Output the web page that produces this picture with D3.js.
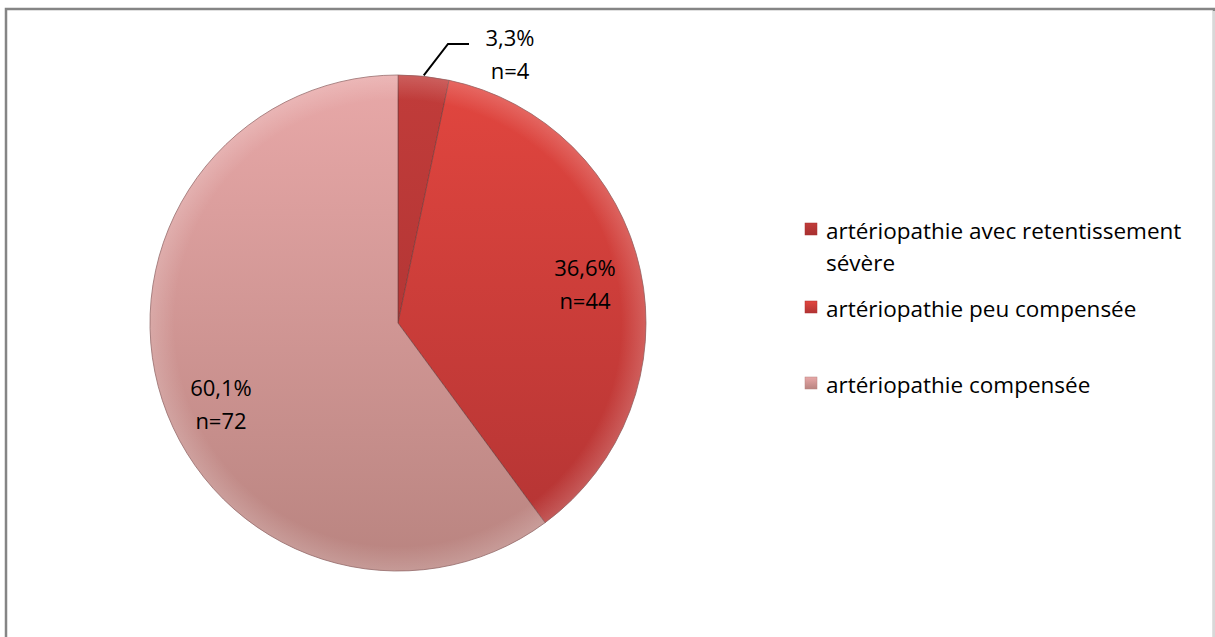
<!DOCTYPE html>
<html><head><meta charset="utf-8">
<script src="https://cdn.jsdelivr.net/npm/d3@7"></script>
<style>body{margin:0;background:#fff;}svg{display:block;}text{font-family:"Open Sans","Noto Sans",sans-serif;}</style>
</head><body>
<svg id="c" width="1215" height="637"></svg>
<script>
const categories = ["artériopathie avec retentissement sévère", "artériopathie peu compensée", "artériopathie compensée"];
const legendLines = [["artériopathie avec retentissement", "sévère"], ["artériopathie peu compensée"], ["artériopathie compensée"]];
const percents = [3.3, 36.6, 60.1];
const counts = [4, 44, 72];
const pctLabels = ["3,3%", "36,6%", "60,1%"];
const topColors = ["#c13c3a", "#e2463f", "#e8a8a8"];
const bottomColors = ["#a83030", "#b13333", "#b98480"];

const svg = d3.select("#c");
// frame
svg.append("rect").attr("x",6).attr("y",9).attr("width",1208).attr("height",640)
  .attr("fill","#fff").attr("stroke","#858585").attr("stroke-width",2.5);
svg.append("line").attr("x1",1214).attr("x2",1214).attr("y1",11).attr("y2",637).attr("stroke","#d8d8d8").attr("stroke-width",2);

const cx = 398, cy = 323, R = 248;
const defs = svg.append("defs");
categories.forEach((c,i)=>{
  const g = defs.append("linearGradient").attr("id","g"+i).attr("gradientUnits","userSpaceOnUse")
    .attr("x1",0).attr("y1",-R).attr("x2",0).attr("y2",R);
  g.append("stop").attr("offset","0%").attr("stop-color",topColors[i]);
  g.append("stop").attr("offset","100%").attr("stop-color",bottomColors[i]);
});
const lg = defs.append("radialGradient").attr("id","rim").attr("gradientUnits","userSpaceOnUse")
  .attr("cx",0).attr("cy",0).attr("r",R);
lg.append("stop").attr("offset","90%").attr("stop-color","#fff").attr("stop-opacity",0);
lg.append("stop").attr("offset","100%").attr("stop-color","#fff").attr("stop-opacity",0.18);

const pie = d3.pie().sort(null).value(d=>d)(percents);
const arc = d3.arc().innerRadius(0).outerRadius(R);
const gp = svg.append("g").attr("transform",`translate(${cx},${cy})`);
gp.selectAll("path.s").data(pie).join("path").attr("class","s")
  .attr("d",arc).attr("fill",(d,i)=>`url(#g${i})`)
  .attr("stroke","#6e3a3a").attr("stroke-width",1).attr("stroke-opacity",0.6);
gp.selectAll("path.r").data(pie).join("path").attr("class","r")
  .attr("d",arc).attr("fill","url(#rim)");

// labels
const labelPos = [[510, 46], [585, 276], [221, 396]];
pie.forEach((d,i)=>{
  const [x,y] = labelPos[i];
  svg.append("text").attr("x",x).attr("y",y).attr("text-anchor","middle").attr("font-size",22).attr("fill","#000").text(pctLabels[i]);
  svg.append("text").attr("x",x).attr("y",y+33).attr("text-anchor","middle").attr("font-size",22).attr("fill","#000").text("n=" + counts[i]);
});
// leader line for small slice
const mid = (pie[0].startAngle + pie[0].endAngle)/2;
const px = cx + Math.sin(mid)*(R+1), py = cy - Math.cos(mid)*(R+1);
svg.append("polyline").attr("points",`${px},${py} 448,44 469,44`).attr("fill","none").attr("stroke","#000").attr("stroke-width",2);

// legend
const legY = [239, 317, 393];
categories.forEach((c,i)=>{
  const y = legY[i];
  const g = defs.append("linearGradient").attr("id","lgg"+i).attr("x1",0).attr("y1",0).attr("x2",0).attr("y2",1);
  g.append("stop").attr("offset","0%").attr("stop-color",topColors[i]);
  g.append("stop").attr("offset","100%").attr("stop-color",bottomColors[i]);
  svg.append("rect").attr("x",805).attr("y",y-16).attr("width",12).attr("height",12)
    .attr("fill",`url(#lgg${i})`).attr("stroke",bottomColors[i]).attr("stroke-width",0.5);
  legendLines[i].forEach((t,j)=>{
    svg.append("text").attr("x",826).attr("y",y + j*32).attr("font-size",22.5).attr("fill","#000").text(t);
  });
});
</script>
</body></html>
